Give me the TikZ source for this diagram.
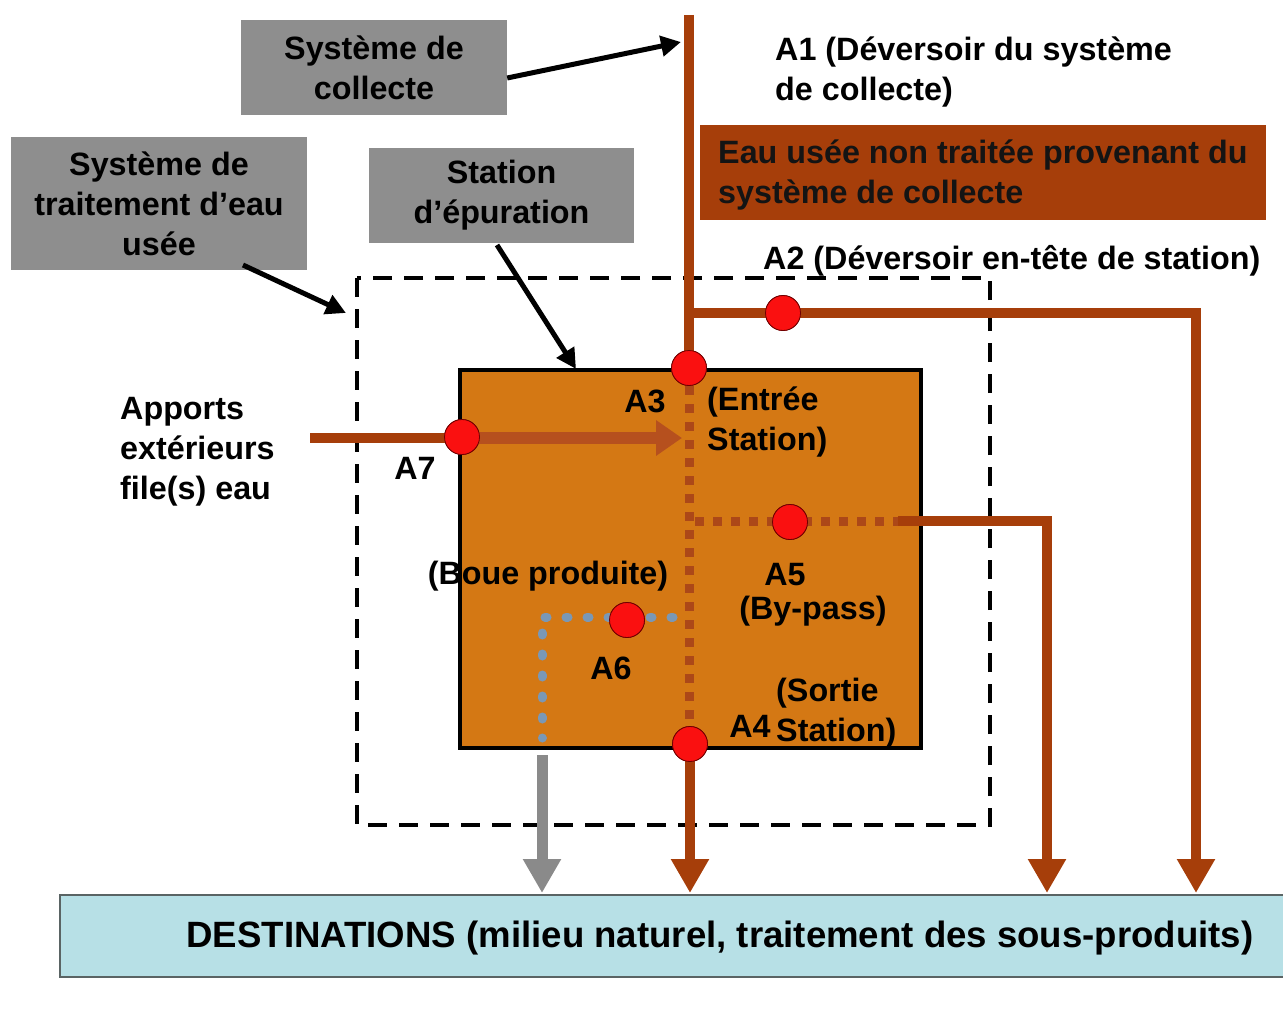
\documentclass[tikz,border=0pt]{standalone}
\usepackage{fontspec}
\setmainfont{Liberation Sans}
\usetikzlibrary{arrows.meta}

\definecolor{brun}{RGB}{166,62,10}
\definecolor{brunpoint}{RGB}{172,72,24}
\definecolor{brunfleche}{RGB}{182,80,30}
\definecolor{orangestation}{RGB}{212,120,20}
\definecolor{grisboite}{RGB}{142,142,142}
\definecolor{grisboue}{RGB}{138,138,138}
\definecolor{bleuboue}{RGB}{122,152,182}
\definecolor{bleudest}{RGB}{183,224,230}
\definecolor{rougepoint}{RGB}{250,16,16}

\tikzset{
  txt/.style={font=\fontsize{32.3}{40}\selectfont\bfseries, text=black, inner sep=0pt, align=left},
  graybox/.style={txt, fill=grisboite, align=center, minimum width=#1},
  flow/.style={draw=brun, line width=10pt, line join=miter},
  flowtip/.style={-{Triangle[width=36pt,length=34pt]}},
  ptr/.style={draw=black, line width=5pt, -{Triangle[width=20pt,length=20pt]}},
  pt/.style={circle, fill=rougepoint, draw={rgb,255:red,110;green,0;blue,0}, line width=0.8pt,
             minimum size=35pt, inner sep=0pt},
}

\begin{document}
\begin{tikzpicture}[x=1pt,y=-1pt]
\useasboundingbox (0,0) rectangle (1283,1033);

% boundary of the treatment system
\draw[line width=4pt, dash pattern=on 19pt off 12pt] (357,278) rectangle (990,825);

% treatment plant
\node[draw=black, line width=4.5pt, fill=orangestation, minimum width=461pt, minimum height=378pt,
      inner sep=0pt] (station) at (690.5,559) {};

% flow junctions and free ends
\coordinate (top) at (689,15);
\coordinate (jA2) at (689,313);
\coordinate (cA2) at (1196,313);
\coordinate (dA2) at (1196,893);
\coordinate (sA5) at (898,521);
\coordinate (cA5) at (1047,521);
\coordinate (dA5) at (1047,893);
\coordinate (dA4) at (690,893);
\coordinate (in7) at (310,438);
\coordinate (h7) at (682,438);
\coordinate (cA6) at (542,617);
\coordinate (eA6) at (542,738);
\coordinate (sB) at (542,755);
\coordinate (dB) at (542,893);

% measuring points
\node[pt] (A3) at (689,368) {};
\node[pt] (A2) at (783,313) {};
\node[pt] (A7) at (462,437) {};
\node[pt] (A5) at (790,522) {};
\node[pt] (A6) at (627,620) {};
\node[pt] (A4) at (690,744) {};

% untreated sewage and overflow
\draw[flow] (top) -- (A3.center);
\draw[flow, flowtip] (jA2) -- (A2.center) -- (cA2) -- (dA2);

% by-pass
\draw[draw=brunpoint, line width=9pt, dash pattern=on 9pt off 9pt] (695,521) -- (sA5);
\draw[flow, flowtip] (sA5) -- (cA5) -- (dA5);

% main line through the plant
\draw[draw=brunpoint, line width=9pt, dash pattern=on 9pt off 9pt] (689,386) -- (689,736);
\draw[flow, flowtip] (A4.center) -- (dA4);

% external inputs
\draw[flow] (in7) -- (in7 -| A7.center);
\draw[draw=brunfleche, line width=12pt, -{Triangle[width=34pt,length=26pt]}] (in7 -| A7.center) -- (h7);

% sludge
\draw[draw=bleuboue, line width=9pt, line cap=round, dash pattern=on 2pt off 19pt] (673,617) -- (cA6) -- (eA6);
\draw[draw=grisboue, line width=11pt, flowtip] (sB) -- (dB);

% points on top
\foreach \p in {A3,A2,A7,A5,A6,A4} \node[pt] at (\p) {};

% labels
\node[txt, anchor=west] (lA1) at (775,72) {A1 (Déversoir du système\\de collecte)};
\node[txt, anchor=west] (lA2) at (763,261) {A2 (Déversoir en-tête de station)};
\node[txt] (lA3) at (645,401) {A3};
\node[txt, anchor=west] (lentree) at (707,422) {(Entrée\\Station)};
\node[txt, anchor=west] (lapports) at (120,452) {Apports\\extérieurs\\file(s) eau};
\node[txt] (lA7) at (415,468) {A7};
\node[txt] (lboue) at (548,576) {(Boue produite)};
\node[txt] (lA5) at (785,575) {A5};
\node[txt] (lbypass) at (813,611) {(By-pass)};
\node[txt] (lA6) at (611,668) {A6};
\node[txt, anchor=west] (lsortie) at (776,713) {(Sortie\\Station)};
\node[txt] (lA4) at (750,726) {A4};

% captions
\node[graybox=266pt, minimum height=95pt] (collecte) at (374,67.5) {Système de\\collecte};
\node[graybox=296pt, minimum height=133pt] (traitement) at (159,203.5) {Système de\\traitement d’eau\\usée};
\node[graybox=265pt, minimum height=95pt] (epuration) at (501.5,195.5) {Station\\d’épuration};
\node[fill=brun, minimum width=566pt, minimum height=95pt, inner sep=0pt] (eau) at (983,172.5) {};
\node[txt, anchor=west, text=black!92] (eautxt) at (718,175) {Eau usée non traitée provenant du\\système de collecte};

\coordinate (pc) at (681,42);
\coordinate (pt2) at (346,313);
\coordinate (pe) at (576,369);
\draw[ptr] (collecte.east |- 0,78) -- (pc);
\draw[ptr] (243,265) -- (pt2);
\draw[ptr] (497,245) -- (pe);

% destinations
\node[draw={rgb,255:red,90;green,100;blue,100}, line width=1.5pt, fill=bleudest,
      minimum width=1226pt, minimum height=82pt, inner sep=0pt] (dest) at (673,936) {};
\node[txt, font=\fontsize{36.6}{44}\selectfont\bfseries] (desttxt) at (720,938)
  {DESTINATIONS (milieu naturel, traitement des sous-produits)};
\end{tikzpicture}
\end{document}
